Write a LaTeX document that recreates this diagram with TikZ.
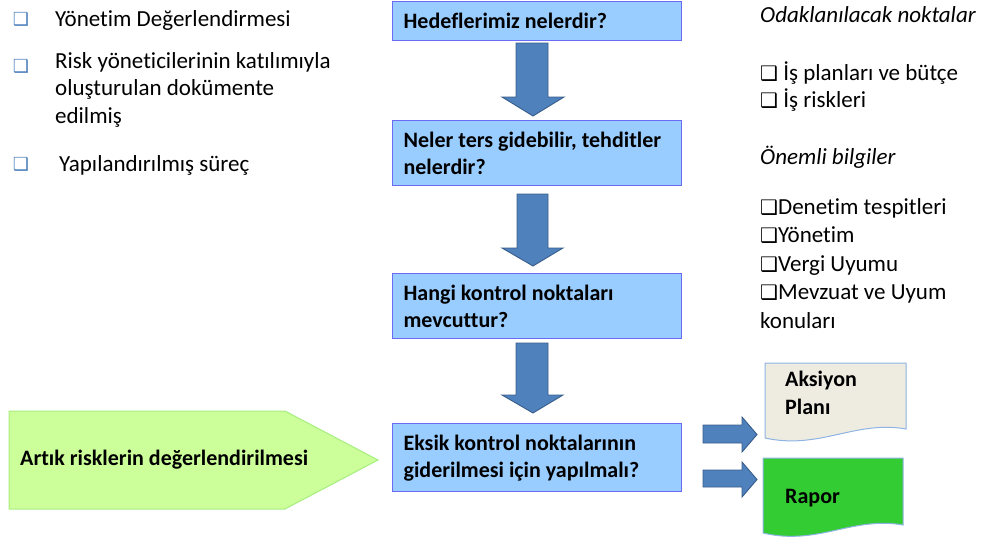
\documentclass[tikz,border=0pt]{standalone}
\usepackage{fontspec}
\setmainfont{Carlito}[RawFeature=-liga]
\newfontfamily\dejavu{DejaVu Sans}
\usetikzlibrary{calc}
\definecolor{boxfill}{HTML}{99CCFF}
\definecolor{boxline}{HTML}{6A6AF5}
\definecolor{arrfill}{HTML}{4F81BD}
\definecolor{arrline}{HTML}{385D8A}
\definecolor{pentfill}{HTML}{CCFF99}
\definecolor{pentline}{HTML}{A6EE80}
\definecolor{docfill}{HTML}{EEECE1}
\definecolor{docline}{HTML}{8EB4E3}
\definecolor{rapfill}{HTML}{33CC33}
\newcommand{\bsq}{{\dejavu\fontsize{18}{18}\selectfont\textcolor{arrfill}{❑}}}
\newcommand{\ksq}{{\dejavu\fontsize{20}{20}\selectfont ❑}}
\tikzset{
  qbox/.style={draw=boxline, line width=1.2pt, fill=boxfill, anchor=north west,
    minimum width=289pt, text width=267pt, inner sep=11pt, align=flush left,
    font=\fontsize{22}{27}\selectfont\bfseries},
  fatarr/.style={draw=arrline, fill=arrfill, line width=0.9pt, line join=miter},
  plain/.style={anchor=west, inner sep=0pt, align=left, font=\fontsize{23}{27.5}\selectfont},
}
\begin{document}
\begin{tikzpicture}[x=1pt,y=-1pt]
\useasboundingbox (0,0) rectangle (983,539);

% left list
\node[plain] (l1) at (55,20) {Yönetim Değerlendirmesi};
\node[plain, anchor=north west] (l2) at (55,52) {Risk yöneticilerinin katılımıyla\\oluşturulan dokümente\\edilmiş};
\node[plain] (l3) at (59,165) {Yapılandırılmış süreç};
\node[inner sep=0pt] (s1) at (21,19) {\bsq};
\node[inner sep=0pt] (s2) at (21,66) {\bsq};
\node[inner sep=0pt] (s3) at (21,164) {\bsq};

% central boxes
\node[qbox, minimum height=39pt] (b1) at (392,1) {Hedeflerimiz nelerdir?};
\node[qbox, minimum height=65pt] (b2) at (392,120) {Neler ters gidebilir, tehditler\\nelerdir?};
\node[qbox, minimum height=64pt] (b3) at (392,273) {Hangi kontrol noktaları\\mevcuttur?};
\node[qbox, minimum height=65pt] (b4) at (392,423) {Eksik kontrol noktalarının\\giderilmesi için yapılmalı?};

% down arrows
\draw[fatarr] (516,43) -- (548,43) -- (548,97) -- (564,97) -- (533,116) -- (502,97) -- (516,97) -- cycle;
\draw[fatarr] (517,194) -- (548,194) -- (548,248) -- (563,248) -- (533,266) -- (502,248) -- (517,248) -- cycle;
\draw[fatarr] (516,343) -- (548,343) -- (548,395) -- (563,395) -- (533,413) -- (502,395) -- (516,395) -- cycle;

% green pentagon
\draw[draw=pentline, fill=pentfill, line width=1pt] (9,411) -- (285,411) -- (378,460) -- (285,509) -- (9,509) -- cycle;
\node[anchor=west, inner sep=0pt, font=\fontsize{22}{26}\selectfont\bfseries] (pt) at (20,460) {Artık risklerin değerlendirilmesi};

% right arrows
\draw[fatarr] (703,425) -- (742,425) -- (742,417) -- (757,434.5) -- (742,452) -- (742,443) -- (703,443) -- cycle;
\draw[fatarr] (703,470) -- (742,470) -- (742,462) -- (757,479.5) -- (742,497) -- (742,487) -- (703,487) -- cycle;

% documents
\draw[draw=docline, fill=docfill, line width=1pt] (765,363) -- (906,363) -- (906,429) .. controls (855,420) and (820,450) .. (765,438) -- cycle;
\node[anchor=north west, inner sep=0pt, align=left, font=\fontsize{22}{28}\selectfont\bfseries] (ap) at (785,371) {Aksiyon\\Planı};
\draw[draw=docline, fill=rapfill, line width=1pt] (763,458) -- (903,458) -- (903,525) .. controls (852,516) and (818,546) .. (763,533) -- cycle;
\node[anchor=west, inner sep=0pt, font=\fontsize{22}{26}\selectfont\bfseries] (rp) at (785,498) {Rapor};

% right column
\node[plain, font=\fontsize{23}{27}\selectfont\itshape] (r0) at (760,15) {Odaklanılacak noktalar};
\node[plain] (r1) at (760,73) {\ksq\ İş planları ve bütçe};
\node[plain] (r2) at (760,100) {\ksq\ İş riskleri};
\node[plain, font=\fontsize{23}{27}\selectfont\itshape] (r3) at (760,157) {Önemli bilgiler};
\node[plain, anchor=north west, font=\fontsize{23}{28.5}\selectfont] (r4) at (760,198) {\ksq Denetim tespitleri\\\ksq Yönetim\\\ksq Vergi Uyumu\\\ksq Mevzuat ve Uyum\\konuları};
\end{tikzpicture}
\end{document}
